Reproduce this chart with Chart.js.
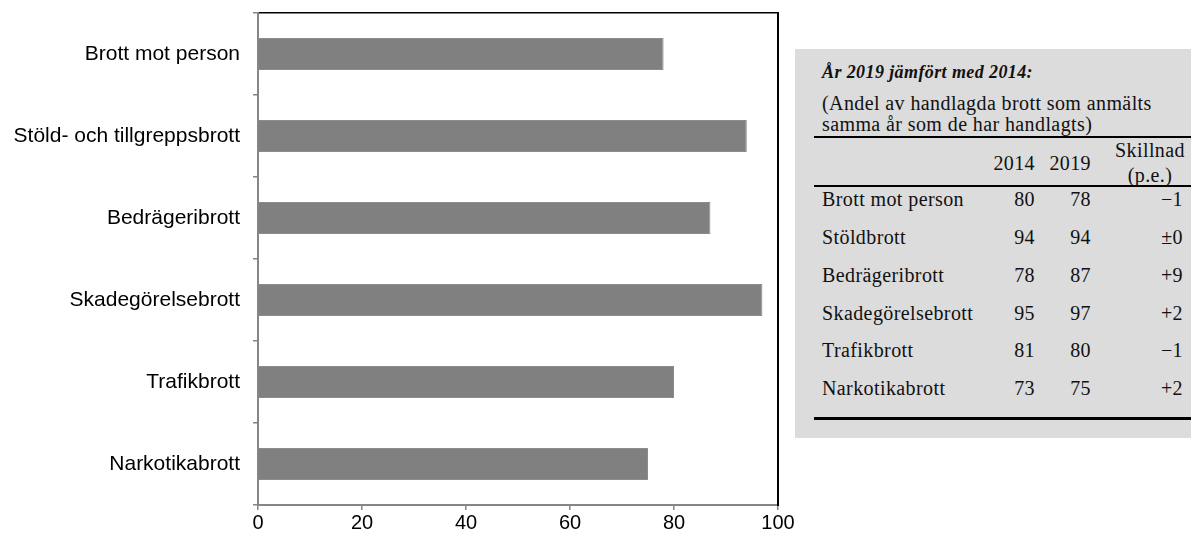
<!DOCTYPE html>
<html>
<head>
<meta charset="utf-8">
<script src="https://cdn.jsdelivr.net/npm/chart.js"></script>
<style>
  html, body { margin: 0; padding: 0; background: #ffffff; }
  #wrap { position: relative; width: 1191px; height: 537px; overflow: hidden; background: #fff; }
  #chartBox { position: absolute; left: 0; top: 0; width: 810px; height: 537px; }
  #panel { position: absolute; left: 795px; top: 49px; width: 396px; height: 389px; background: #dcdcdc; }
  .t { position: absolute; font-family: "Liberation Serif", "Times New Roman", serif; font-size: 20px; line-height: 20px; color: #111; white-space: nowrap; letter-spacing: 0.4px; }
  .rule { position: absolute; background: #000; }
</style>
</head>
<body>
<div id="wrap">
  <div id="chartBox"><canvas id="c"></canvas></div>
  <div id="layer"></div>
</div>
<script>
// ---- chart data ----
const categories = ['Brott mot person', 'Stöld- och tillgreppsbrott', 'Bedrägeribrott', 'Skadegörelsebrott', 'Trafikbrott', 'Narkotikabrott'];
const values2019 = [78, 94, 87, 97, 80, 75];
const xTickValues = [0, 20, 40, 60, 80, 100];

// ---- side table data ----
const tableTitle = 'År 2019 jämfört med 2014:';
const tableSubtitle = ['(Andel av handlagda brott som anmälts', 'samma år som de har handlagts)'];
const tableHeader = ['2014', '2019', 'Skillnad', '(p.e.)'];
const tableRows = ['Brott mot person', 'Stöldbrott', 'Bedrägeribrott', 'Skadegörelsebrott', 'Trafikbrott', 'Narkotikabrott'];
const table2014 = [80, 94, 78, 95, 81, 73];
const table2019 = [78, 94, 87, 97, 80, 75];
const tableDiff = ['−1', '±0', '+9', '+2', '−1', '+2'];

// ---- build table (HTML text) ----
const layer = document.getElementById('layer');
const panel = document.createElement('div');
panel.id = 'panel';
layer.appendChild(panel);

function addText(txt, baseline, opts) {
  const d = document.createElement('div');
  d.className = 't';
  d.textContent = txt;
  const fs = opts.size || 20;
  d.style.fontSize = fs + 'px';
  d.style.lineHeight = fs + 'px';
  if (opts.weight) d.style.fontWeight = opts.weight;
  if (opts.italic) d.style.fontStyle = 'italic';
  d.style.top = (baseline - 0.8375 * fs) + 'px';
  if (opts.align === 'right') {
    d.style.left = (opts.x - 200) + 'px';
    d.style.width = '200px';
    d.style.textAlign = 'right';
  } else if (opts.align === 'center') {
    d.style.left = (opts.x - 100) + 'px';
    d.style.width = '200px';
    d.style.textAlign = 'center';
  } else {
    d.style.left = opts.x + 'px';
  }
  layer.appendChild(d);
  return d;
}
function addRule(y, h) {
  const r = document.createElement('div');
  r.className = 'rule';
  r.style.left = '814px';
  r.style.width = '377px';
  r.style.top = y + 'px';
  r.style.height = h + 'px';
  layer.appendChild(r);
}

const leftX = 822, col1 = 1035, col2 = 1091, col3 = 1183, col3c = 1150;
addText(tableTitle, 78, { x: leftX, size: 18, weight: 'bold', italic: true });
addText(tableSubtitle[0], 110, { x: leftX });
addText(tableSubtitle[1], 131, { x: leftX });
addRule(136, 2);
addText(tableHeader[0], 170, { x: col1, align: 'right' });
addText(tableHeader[1], 170, { x: col2, align: 'right' });
addText(tableHeader[2], 157, { x: col3c, align: 'center' });
addText(tableHeader[3], 182, { x: col3c, align: 'center' });
addRule(185, 2);
const rowBase0 = 206, rowStep = 37.8;
tableRows.forEach((name, i) => {
  const b = rowBase0 + i * rowStep;
  addText(name, b, { x: leftX });
  addText(String(table2014[i]), b, { x: col1, align: 'right' });
  addText(String(table2019[i]), b, { x: col2, align: 'right' });
  addText(tableDiff[i], b, { x: col3, align: 'right' });
});
addRule(417, 3);

// ---- chart ----
const grey = '#868686';
new Chart(document.getElementById('c'), {
  type: 'bar',
  data: {
    labels: categories,
    datasets: [{
      data: values2019,
      backgroundColor: '#808080',
      borderColor: '#8c8c8c',
      borderWidth: 1,
      borderSkipped: 'start',
      categoryPercentage: 1.0,
      barPercentage: 0.39
    }]
  },
  options: {
    indexAxis: 'y',
    responsive: true,
    maintainAspectRatio: false,
    animation: false,
    layout: { padding: { top: 13, right: 32, bottom: 0, left: 0 } },
    plugins: { legend: { display: false }, tooltip: { enabled: false } },
    scales: {
      x: {
        type: 'linear',
        position: 'bottom',
        min: 0, max: 100,
        afterBuildTicks: (s) => { s.ticks = xTickValues.map(v => ({ value: v })); },
        afterFit: (s) => { s.height = 32; s.paddingLeft = 0; s.paddingRight = 0; },
        grid: { drawOnChartArea: false, drawTicks: true, tickLength: 5, color: grey, lineWidth: 1.5 },
        border: { display: true, color: grey, width: 2 },
        ticks: { color: '#000', padding: 1, font: { family: '"Liberation Sans", Arial, sans-serif', size: 20 }, maxRotation: 0 }
      },
      x2: {
        type: 'linear',
        position: 'top',
        min: 0, max: 100,
        afterFit: (s) => { s.height = 0; s.paddingLeft = 0; s.paddingRight = 0; },
        grid: { display: false, drawTicks: false },
        border: { display: true, color: '#000', width: 1.5 },
        ticks: { display: false }
      },
      y: {
        type: 'category',
        position: 'left',
        offset: true,
        afterFit: (s) => { s.width = 258; s.paddingTop = 0; s.paddingBottom = 0; },
        grid: { offset: true, drawOnChartArea: false, drawTicks: true, tickLength: 5, color: grey, lineWidth: 1.5 },
        border: { display: true, color: grey, width: 2 },
        ticks: { color: '#000', padding: 13, font: { family: '"Liberation Sans", Arial, sans-serif', size: 21 } }
      },
      y2: {
        type: 'linear',
        position: 'right',
        min: 0, max: 1,
        afterFit: (s) => { s.width = 0; s.paddingTop = 0; s.paddingBottom = 0; },
        grid: { display: false, drawTicks: false },
        border: { display: true, color: '#000', width: 2 },
        ticks: { display: false }
      }
    }
  }
});
</script>
</body>
</html>
